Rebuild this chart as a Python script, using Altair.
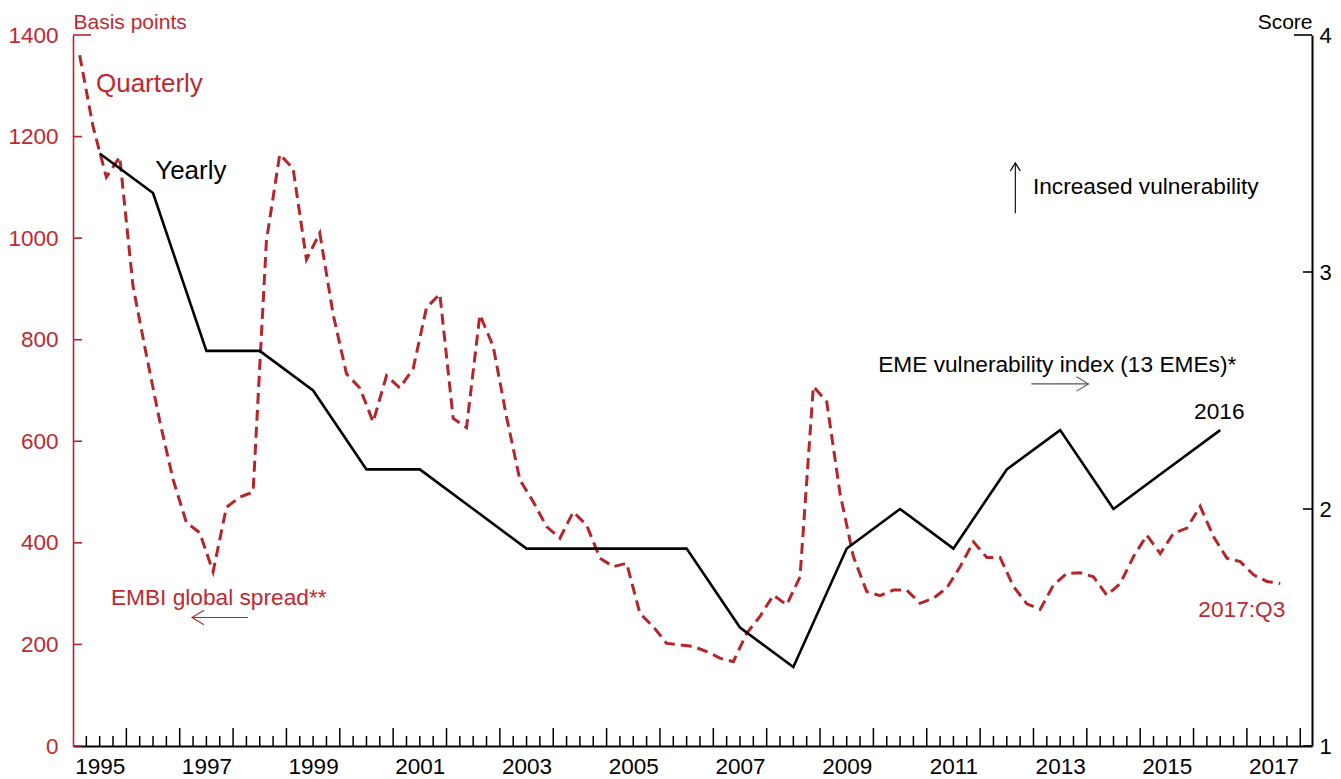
import altair as alt
import pandas as pd

# ---------------- data ----------------
RED = "#B3262C"
TXT_RED = "#BC2A30"
FONT = "Liberation Sans, Arial, sans-serif"

# yearly EME vulnerability index (score, right axis), plotted at mid-year
index_years = list(range(1995, 2017))
index_scores = [3.5, 3.333, 2.667, 2.667, 2.5, 2.167, 2.167, 2.0, 1.833, 1.833,
                1.833, 1.833, 1.5, 1.333, 1.833, 2.0, 1.833, 2.167, 2.333, 2.0,
                2.167, 2.333]

# quarterly EMBI global spread (basis points, left axis), 1995:Q1 - 2017:Q3
spread_start_year = 1995
embi_spread = [
    1360, 1220, 1120, 1160,   # 1995
    905, 770, 640, 525,       # 1996
    440, 420, 343, 470,       # 1997
    490, 500, 995, 1165,      # 1998
    1137, 958, 1010, 850,     # 1999
    733, 705, 638, 729,       # 2000
    705, 743, 863, 890,       # 2001
    645, 627, 849, 787,       # 2002
    648, 524, 481, 432,       # 2003
    409, 461, 435, 370,       # 2004
    353, 360, 261, 235,       # 2005
    202, 199, 196, 186,       # 2006
    173, 166, 222, 255,       # 2007
    297, 278, 333, 708,       # 2008
    678, 497, 373, 304,       # 2009
    296, 307, 307, 281,       # 2010
    291, 311, 353, 402,       # 2011
    371, 371, 314, 280,       # 2012
    269, 317, 340, 341,       # 2013
    333, 297, 320, 373,       # 2014
    415, 379, 419, 429,       # 2015
    472, 412, 370, 363,       # 2016
    337, 324, 320,            # 2017
]

x_label_years = list(range(1995, 2018, 2))
bp_ticks = [0, 200, 400, 600, 800, 1000, 1200, 1400]
score_ticks = [1, 2, 3, 4]

# annotations (data units: decimal year, basis points)
ann_text = ["Quarterly", "Yearly", "Increased vulnerability",
            "EME vulnerability index (13 EMEs)*", "2016", "2017:Q3",
            "EMBI global spread**"]
ann_t = [1995.43, 1996.54, 2012.99, 2010.09, 2016.01, 2016.09, 1995.71]
ann_bp = [1288, 1116, 1087, 736, 644, 254, 277]
ann_color = [TXT_RED, "black", "black", "black", "black", TXT_RED, TXT_RED]
ann_size = [26, 26, 22.7, 22.7, 22.7, 22.7, 22.7]

# ---------------- frames ----------------
q_df = pd.DataFrame({
    "t": [spread_start_year + (i + 0.5) / 4 for i in range(len(embi_spread))],
    "bp": embi_spread,
})
y_df = pd.DataFrame({"t": [y + 0.5 for y in index_years], "score": index_scores})
ann_df = pd.DataFrame({"t": ann_t, "bp": ann_bp, "text": ann_text,
                       "color": ann_color, "size": ann_size})

W, H = 1239, 711
xs = alt.Scale(domain=[1995, 2018.22], nice=False, zero=False)
ys_bp = alt.Scale(domain=[0, 1400], nice=False, zero=False)
ys_sc = alt.Scale(domain=[1, 4], nice=False, zero=False)

x_axis = alt.Axis(values=[y + 0.5 for y in x_label_years], labelExpr="floor(datum.value)",
                  ticks=False, grid=False, domainColor="black", domainWidth=2,
                  labelFont=FONT, labelFontSize=22.5, labelColor="black",
                  labelPadding=9, labelFlush=False, labelOverlap=False, title=None)

left_axis = alt.Axis(values=bp_ticks, ticks=False, grid=False, domainColor=RED,
                     domainWidth=1.6, labelFont=FONT, labelFontSize=22.5,
                     labelColor=TXT_RED, labelPadding=15, format="d",
                     labelFlush=False, labelOverlap=False,
                     title="Basis points", titleAngle=0, titleAlign="left",
                     titleBaseline="alphabetic", titleX=0, titleY=-7,
                     titleColor=TXT_RED, titleFont=FONT, titleFontSize=21,
                     titleFontWeight="normal")

right_axis = alt.Axis(orient="right", values=score_ticks, ticks=False, grid=False,
                      domainColor="black", domainWidth=2, labelFont=FONT,
                      labelFontSize=22, labelColor="black", labelPadding=7,
                      labelFlush=False, labelOverlap=False,
                      format="d", title="Score", titleAngle=0, titleAlign="right",
                      titleBaseline="alphabetic", titleX=0, titleY=-7,
                      titleColor="black", titleFont=FONT, titleFontSize=21,
                      titleFontWeight="normal")

X = alt.X("t:Q", scale=xs, axis=x_axis)
Y_BP = alt.Y("bp:Q", scale=ys_bp, axis=left_axis)
Y_SC = alt.Y("score:Q", scale=ys_sc, axis=right_axis)

# ---------------- left (basis points) group ----------------
spread_line = alt.Chart(q_df).mark_line(color=RED, strokeWidth=3, strokeDash=[11, 6]).encode(
    x=X, y=Y_BP)

left_ticks = alt.Chart(pd.DataFrame({"bp": bp_ticks[:-1]})).mark_rule(
    color=RED, strokeWidth=1.6).encode(y=Y_BP, x=alt.value(0), x2=alt.value(9))
left_top = alt.Chart(pd.DataFrame({"bp": bp_ticks[-1:]})).mark_rule(
    color=RED, strokeWidth=1.6).encode(y=Y_BP, x=alt.value(0), x2=alt.value(18))

qt = [1995 + k / 4 for k in range(1, 93)]
minor_df = pd.DataFrame({"t": [v for v in qt if v % 1 != 0]})
major_df = pd.DataFrame({"t": [v for v in qt if v % 1 == 0]})
minor_ticks = alt.Chart(minor_df).mark_rule(color="black", strokeWidth=1.5).encode(
    x=X, y=alt.value(H), y2=alt.value(H - 10))
major_ticks = alt.Chart(major_df).mark_rule(color="black", strokeWidth=1.5).encode(
    x=X, y=alt.value(H), y2=alt.value(H - 18))

texts = alt.Chart(ann_df).mark_text(align="left", baseline="alphabetic", font=FONT).encode(
    x=X, y=Y_BP,
    text="text:N",
    color=alt.Color("color:N", scale=None),
    size=alt.Size("size:Q", scale=None),
)

# arrows
arr_df = pd.DataFrame({
    "t": [2012.96, 1997.23, 2012.66],
    "t2": [2014.03, 1998.28, 2012.66],
    "bp": [713, 253, 1049],
    "bp2": [713, 253, 1148],
    "c": ["#555555", RED, "black"],
})
shafts = alt.Chart(arr_df).mark_rule(strokeWidth=1.1).encode(
    x=X, x2="t2:Q", y=Y_BP, y2="bp2:Q",
    color=alt.Color("c:N", scale=None),
)

head_right = alt.Chart(pd.DataFrame({"t": [2014.03], "bp": [713]})).mark_point(
    shape="M-2,-1.2L0,0L-2,1.2", filled=False, size=144, color="#555555", strokeWidth=1.1, opacity=1
).encode(x=X, y=Y_BP)
head_left = alt.Chart(pd.DataFrame({"t": [1997.23], "bp": [253]})).mark_point(
    shape="M2,-1.2L0,0L2,1.2", filled=False, size=144, color=RED, strokeWidth=1.1, opacity=1
).encode(x=X, y=Y_BP)
head_up = alt.Chart(pd.DataFrame({"t": [2012.66], "bp": [1148]})).mark_point(
    shape="M-1.25,2L0,0L1.25,2", filled=False, size=64, color="black", strokeWidth=1.3, opacity=1
).encode(x=X, y=Y_BP)

left_group = alt.layer(minor_ticks, major_ticks, left_ticks, left_top, spread_line,
                       shafts, head_right, head_left, head_up, texts)

# ---------------- right (score) group ----------------
index_line = alt.Chart(y_df).mark_line(color="black", strokeWidth=2.6).encode(x=X, y=Y_SC)
right_ticks = alt.Chart(pd.DataFrame({"score": score_ticks[:-1]})).mark_rule(
    color="black", strokeWidth=1.6).encode(y=Y_SC, x=alt.value(W - 9), x2=alt.value(W))
right_top = alt.Chart(pd.DataFrame({"score": score_ticks[-1:]})).mark_rule(
    color="black", strokeWidth=1.6).encode(y=Y_SC, x=alt.value(W - 18), x2=alt.value(W))

right_group = alt.layer(index_line, right_ticks, right_top)

chart = alt.layer(left_group, right_group).resolve_scale(y="independent").properties(
    width=W, height=H,
    padding={"left": 65, "top": 27, "right": 21, "bottom": 33},
    autosize=alt.AutoSizeParams(type="none"),
    background="white",
).configure_view(strokeWidth=0)

chart.save("out.html", embed_options={"renderer": "svg", "actions": False})
